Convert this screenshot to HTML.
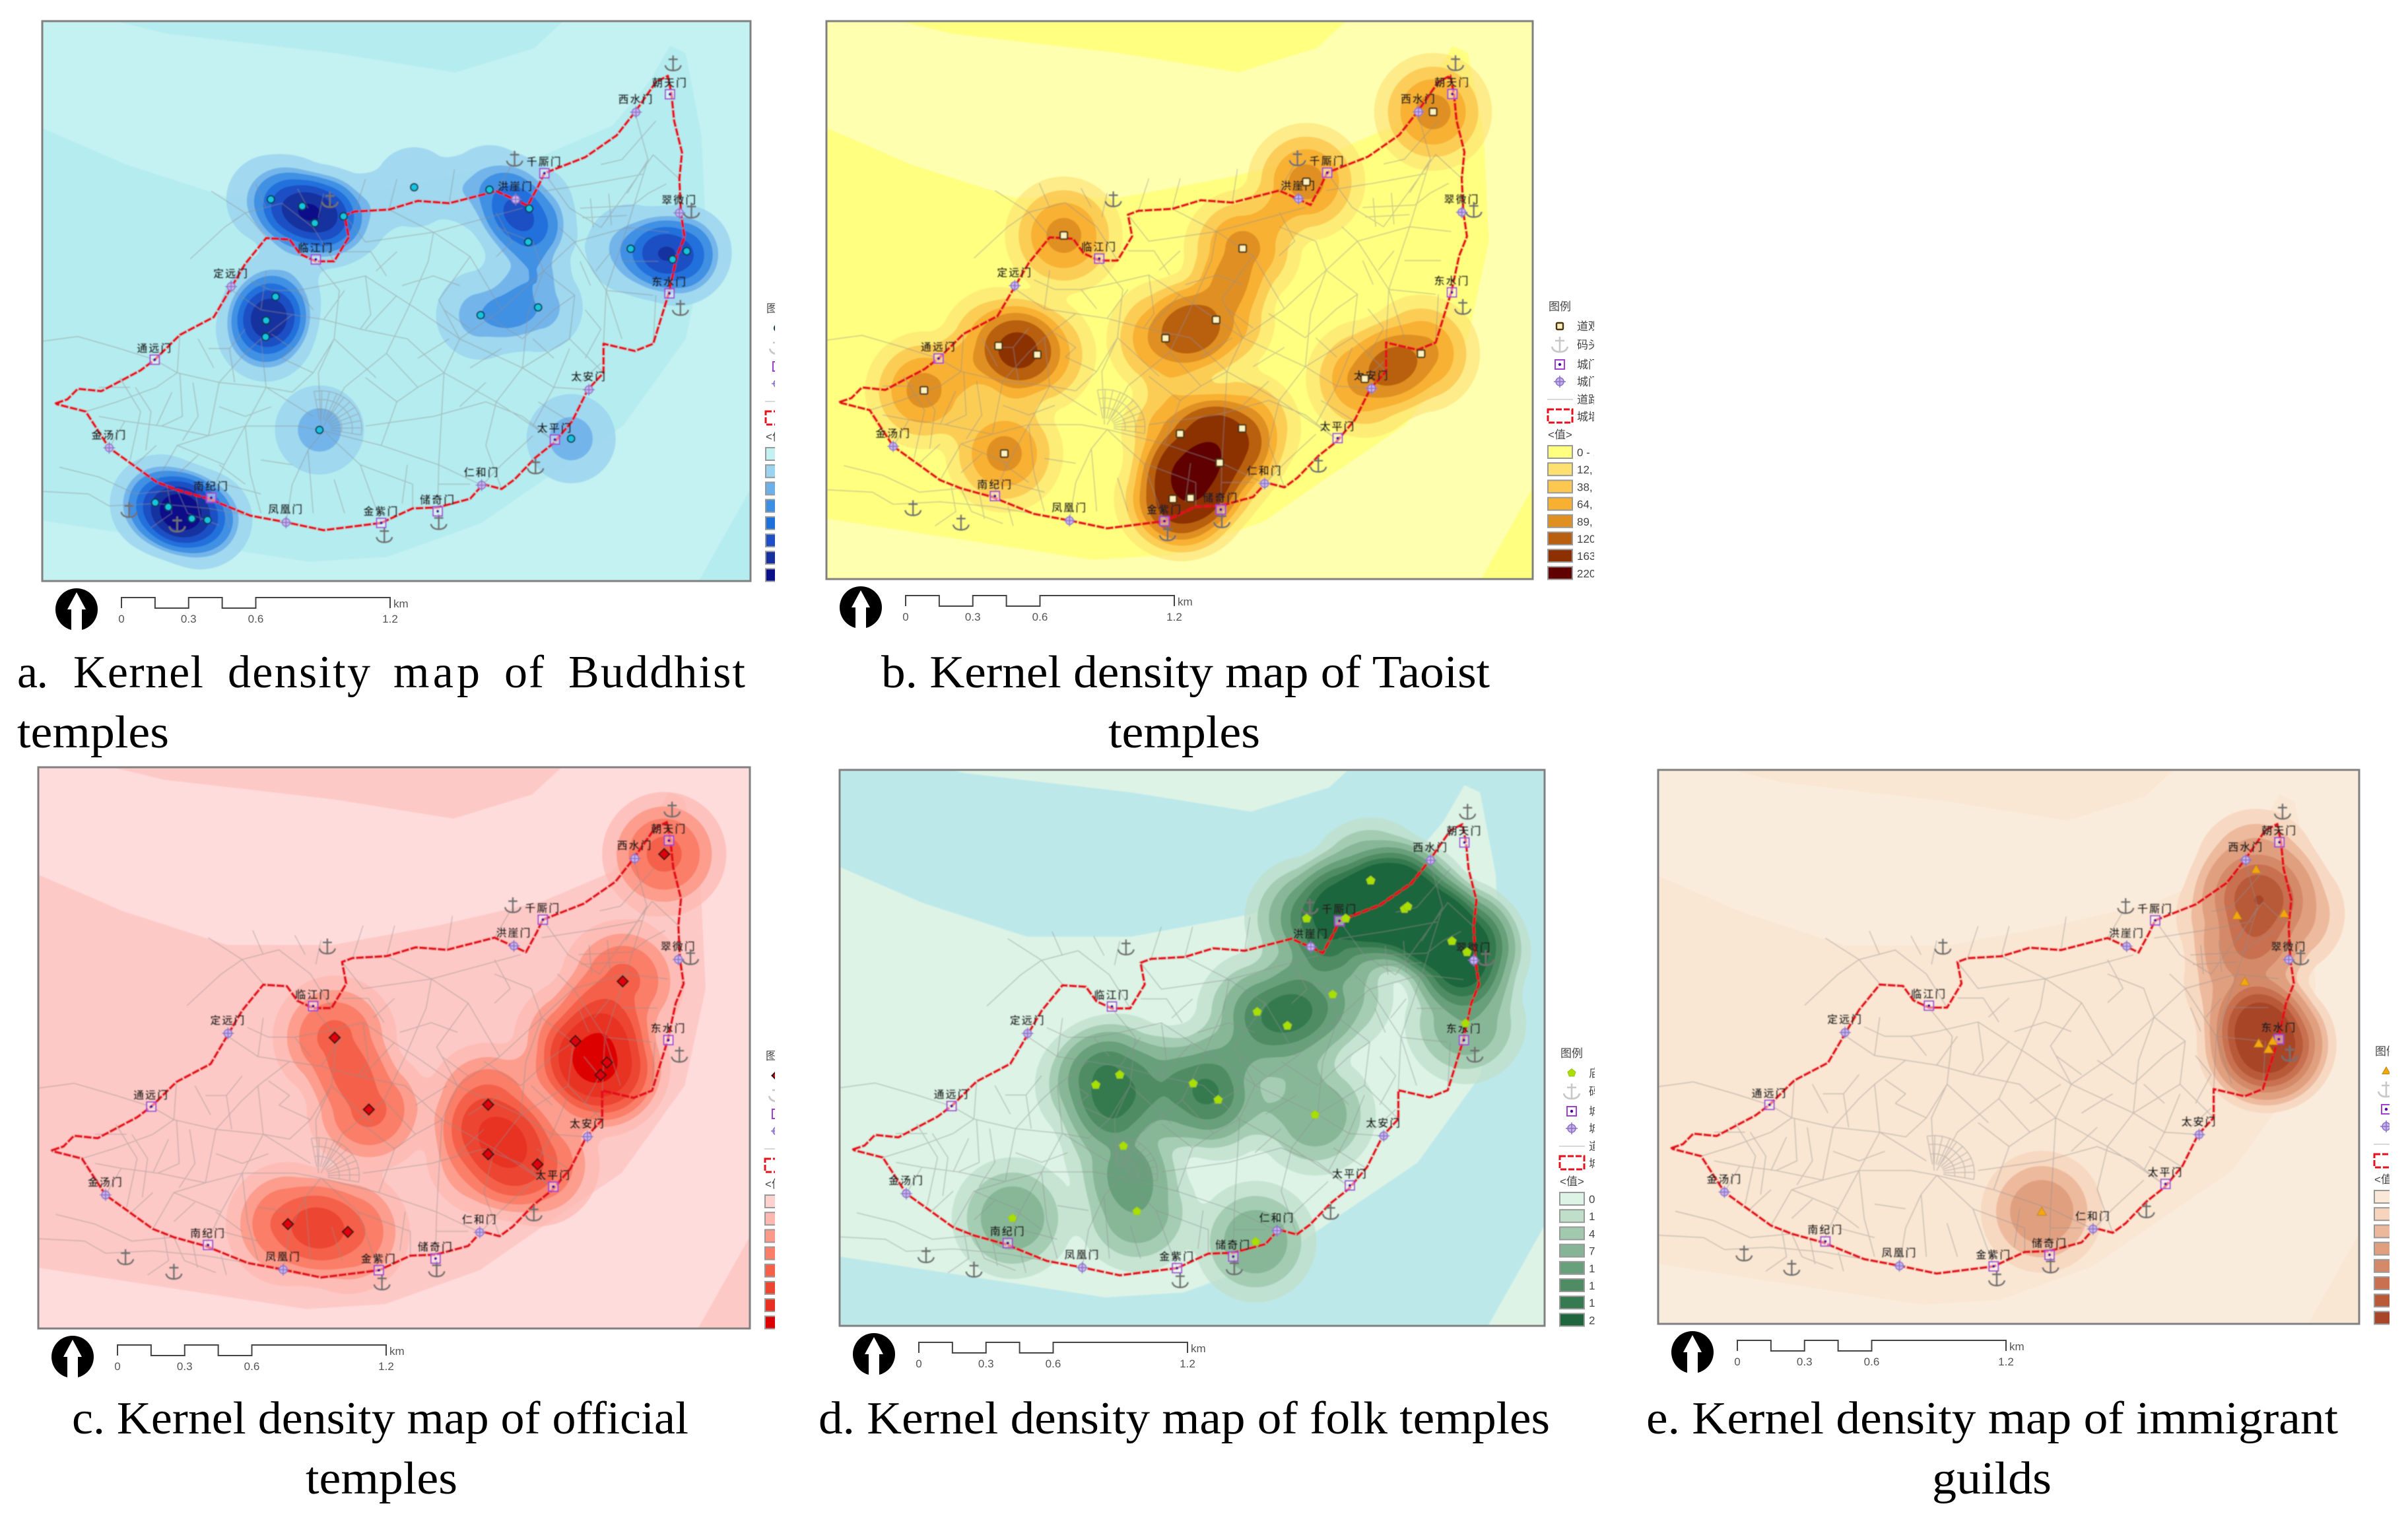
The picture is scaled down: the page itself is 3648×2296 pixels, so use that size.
<!DOCTYPE html>
<html lang="en">
<head>
<meta charset="utf-8">
<title>Kernel density maps of temples and guilds</title>
<style>
html,body{margin:0;padding:0;background:#fff}
svg{display:block}
.cap{font-family:"Liberation Serif","Noto Serif CJK SC",serif;font-size:70px;fill:#000}
.gl{font-family:"Liberation Sans","Noto Sans CJK SC",sans-serif;font-size:16px;font-weight:700;fill:#222;letter-spacing:2px;text-anchor:middle}
.lg{font-family:"Liberation Sans","Noto Sans CJK SC",sans-serif;font-size:17px;fill:#444}
.sc{font-family:"Liberation Sans",sans-serif;font-size:17px;fill:#555}
</style>
</head>
<body>
<svg id="root" xmlns="http://www.w3.org/2000/svg" width="3648" height="2296" viewBox="0 0 3648 2296">
<defs><filter id="soft" x="0" y="0" width="1" height="1"><feGaussianBlur stdDeviation="0.7"/></filter></defs>
<rect width="3648" height="2296" fill="#fff"/>
<g id="panels"></g>
<text class="cap" y="1041"><tspan x="26" textLength="47">a.</tspan><tspan x="111" textLength="197">Kernel</tspan><tspan x="345" textLength="216">density</tspan><tspan x="596" textLength="131">map</tspan><tspan x="764" textLength="60">of</tspan><tspan x="861" textLength="268">Buddhist</tspan></text>
<text class="cap" x="26" y="1132" textLength="230" lengthAdjust="spacingAndGlyphs">temples</text>
<text class="cap" x="1335" y="1041" textLength="922" lengthAdjust="spacingAndGlyphs">b. Kernel density map of Taoist</text>
<text class="cap" x="1679" y="1132" textLength="230" lengthAdjust="spacingAndGlyphs">temples</text>
<text class="cap" x="109" y="2171" textLength="934" lengthAdjust="spacingAndGlyphs">c. Kernel density map of official</text>
<text class="cap" x="463" y="2262" textLength="230" lengthAdjust="spacingAndGlyphs">temples</text>
<text class="cap" x="1240" y="2171" textLength="1108" lengthAdjust="spacingAndGlyphs">d. Kernel density map of folk temples</text>
<text class="cap" x="2494" y="2171" textLength="1048" lengthAdjust="spacingAndGlyphs">e. Kernel density map of immigrant</text>
<text class="cap" x="2927" y="2262" textLength="181" lengthAdjust="spacingAndGlyphs">guilds</text>
</svg>
<script>
/* ---- DATA: map coordinates share one survey grid (x 82–1436, y 44–1200); optional third value = kernel weight ---- */
const buddhistTemples = [[519,412],[579,426],[603,461],[658,447],[793,387,0.7],[937,392],[1013,431],[1011,500],[1030,635],[920,651],[1207,514],[1287,536],[1314,519],[528,613],[510,662],[509,696],[612,888],[1093,906],[298,1038],[323,1047],[368,1071],[398,1074]];
const taoistTemples = [[1245,232],[1002,377],[880,515],[537,488],[829,663],[732,701],[412,717],[486,735],[269,809],[423,940],[1222,733],[1114,785],[760,899],[879,888],[836,959],[746,1034],[780,1032]];
const officialTemples = [[1273,223],[1194,485],[1104,608],[1164,652],[1152,678],[646,601],[711,749],[938,739],[938,841],[1032,862],[557,985],[671,1001]];
const folkTemples = [[1102,274,1.3],[1167,333,1.4],[1173,328,1.4],[979,353,1.2],[1054,353,1.3],[1258,400,1.5],[1287,423,1.5],[1284,571],[1029,511],[884,547],[942,576],[574,699],[620,678],[761,696],[809,730],[995,761],[627,826],[653,962],[414,976],[881,1025]];
const guildHalls = [[1237,252],[1200,348],[1291,344],[1215,486],[1242,615],[1269,610],[1261,627],[823,966]];

const buddhistBreaks = [0.25,0.78,1.03,1.4,1.75,2.15,2.6];
const taoistBreaks = [0.12,0.38,0.64,0.89,1.15,1.5,2.2];
const officialBreaks = [0.12,0.38,0.62,0.9,1.2,1.6,2.2];
const folkBreaks = [0.14,0.42,0.69,1.05,1.4,1.75,2.1];
const guildBreaks = [0.14,0.42,0.69,1.1,1.45,1.8,2.2];

const buddhistColors = ['#c3f0f0','#9ad4f0','#6cb0ea','#3d8fe4','#2070dc','#1e4fc4','#16309f','#0a108a'];
const taoistColors = ['#ffff80','#fde070','#fcc850','#f8b030','#e09020','#b86010','#8c3000','#600000'];
const officialColors = ['#ffd2d0','#fdb8b0','#fc9a8a','#fa7e68','#f46048','#ec4530','#e83020','#dc0000'];
const folkColors = ['#dcf3e6','#bfdfcb','#a0c9ae','#85b596','#68a07c','#4f8c64','#357a50','#1f663c'];
const guildColors = ['#fbe9d7','#f7d5bd','#ecb79b','#e0a080','#d48a68','#c87050','#b85a38','#a84428'];

const gateNames = ['朝天门','西水门','千厮门','洪崖门','翠微门','东水门','太安门','太平门','仁和门','储奇门','金紫门','凤凰门','南纪门','金汤门','通远门','定远门','临江门'];
const gateKinds = ['major','minor','major','minor','minor','major','minor','major','minor','major','major','minor','major','minor','major','minor','major'];
const gateSites = [[1282,195],[1217,232],[1042,358],[987,412],[1300,440],[1281,606],[1127,805],[1062,908],[922,1002],[838,1056],[730,1080],[548,1079],[405,1028],[210,925],[297,743],[443,592],[605,536]];
const dockSites = [[1288,131],[985,328],[632,413],[1323,435],[1302,636],[1025,963],[840,1078],[736,1105],[340,1083],[248,1053]];
const cityWall = [[108,833],[130,825],[150,803],[195,808],[235,785],[270,765],[297,743],[345,692],[410,655],[440,600],[470,545],[510,492],[555,495],[575,525],[605,540],[640,540],[668,490],[660,445],[680,437],[745,433],[800,415],[860,420],[950,395],[985,412],[1010,425],[1030,385],[1042,358],[1120,325],[1180,280],[1215,232],[1255,170],[1278,157],[1285,195],[1290,250],[1305,315],[1300,370],[1303,440],[1310,490],[1295,530],[1280,605],[1250,710],[1215,725],[1155,710],[1155,770],[1125,805],[1095,870],[1060,915],[1025,945],[985,990],[960,1010],[925,1000],[900,1030],[838,1048],[790,1050],[730,1080],[620,1095],[545,1078],[480,1065],[400,1030],[340,1012],[300,995],[210,925],[165,850],[110,835]];
const riverOutline = [[82,20],[222,44],[322,70],[642,110],[872,150],[1022,100],[1102,20],[1470,20],[1470,945],[1306,1260],[60,1260],[60,1071],[82,1075],[292,1110],[592,1160],[742,1150],[922,1080],[1042,990],[1192,880],[1312,700],[1352,500],[1342,280],[1312,110],[1282,95],[1242,170],[1172,260],[1042,320],[842,370],[642,410],[442,410],[242,340],[82,265],[60,255]];
const roads = [
[[82,705],[150,695],[230,720],[297,743]],[[115,965],[190,985],[260,1020],[340,1012]],[[82,1015],[170,1020],[210,1045],[300,1040]],
[[405,395],[470,440],[510,490]],[[365,535],[430,470],[470,440],[540,420],[600,470],[640,540]],[[490,380],[510,430]],[[570,390],[590,430]],[[620,400],[610,450]],[[700,370],[680,437]],[[760,370],[745,433]],[[870,350],[860,420]],[[980,340],[950,395]],
[[620,590],[700,570],[800,640],[880,700],[1000,760],[1060,800]],[[605,540],[650,600],[640,700],[610,770],[615,880]],[[830,480],[820,540],[780,640],[740,730],[660,800],[620,880]],
[[445,600],[500,640],[560,650],[620,660],[690,680],[780,700],[850,770],[950,830],[1020,880],[1060,910]],[[297,743],[340,770],[420,790],[510,800],[600,860]],[[165,850],[225,830],[300,800],[340,770],[345,692]],
[[210,925],[240,870],[310,880],[400,900],[470,880],[570,880],[620,890]],[[300,995],[340,920],[400,900],[420,790]],[[400,1030],[430,960],[470,880],[510,800],[500,700]],[[548,1079],[560,1000],[590,930],[620,890]],[[620,890],[690,960],[730,1080]],[[620,890],[730,920],[840,960],[922,1002]],
[[700,880],[830,860],[930,830],[1000,860],[1060,910]],[[838,1048],[840,960],[850,770],[880,700]],[[1000,760],[1010,650],[1040,560],[1100,500],[1200,470],[1280,480]],[[1042,358],[1090,430],[1150,470],[1250,320]],[[1215,232],[1240,330],[1200,470],[1160,600],[1155,710]],[[1100,500],[1160,600],[1250,610]],[[880,700],[960,640],[1040,560]],[[830,480],[900,530],[960,640]],[[745,433],[830,480],[1000,430]],[[660,445],[700,500],[830,480]],[[1155,770],[1090,700],[1000,760],[950,830]],[[1127,805],[1060,800],[1020,880]],
[[1110,430],[1210,425]],[[1115,450],[1200,445]],[[1130,410],[1135,470]],[[1165,400],[1170,465]],[[1040,395],[1130,380],[1230,360]],[[1250,320],[1300,370]],
[[340,1012],[360,1060],[420,1085]],[[300,1040],[400,1050],[480,1065]],[[320,1000],[330,1060],[290,1090]],[[375,1020],[385,1075]],[[430,1050],[440,1090]],
[[230,780],[270,850],[250,950]],[[345,770],[350,860],[310,880]],[[420,790],[470,730],[500,700],[560,650]],[[540,740],[600,770],[640,700]],[[500,640],[510,560]],[[700,570],[710,650],[690,680]],[[760,610],[700,680]],[[740,730],[800,800],[850,770]],[[730,920],[760,830],[800,800]],[[690,960],[790,1000],[790,1050]],[[590,930],[600,1060]],[[470,880],[480,980],[500,1060]],[[430,960],[340,920]],[[950,830],[930,920],[960,1010]],[[1060,800],[1090,720]],[[930,650],[1000,700]],[[1040,560],[1100,610],[1090,700]],[[1160,600],[1190,700]],[[1255,610],[1250,710]],[[950,470],[1020,500],[1040,560]],[[900,530],[840,620],[880,700]],[[640,700],[720,780]],[[1090,870],[1030,830]],
[[260,800],[290,850],[280,930]],[[300,880],[330,810]],[[370,790],[380,860],[350,910]],[[420,840],[470,860],[520,840]],[[510,800],[560,810],[600,770]],[[450,790],[440,720],[470,680]],[[400,720],[440,720]],[[380,700],[410,760]],[[520,690],[560,720],[540,740]],[[570,600],[600,640]],[[520,600],[570,600],[620,590]],[[480,580],[520,600]],[[660,520],[710,520],[740,570]],[[720,560],[760,520]],[[770,590],[830,570],[880,590]],[[850,640],[900,680]],[[800,740],[860,700]],[[900,760],[960,720]],[[930,790],[880,840]],[[1000,700],[1060,640],[1100,610]],[[1060,740],[1020,700]],[[1120,740],[1150,680],[1120,640]],[[1190,540],[1260,540]],[[1170,520],[1140,560]],[[1070,470],[1100,500]],[[950,440],[980,500],[950,530]],[[1200,400],[1240,330]],[[1255,250],[1190,330],[1150,340]],[[1275,380],[1240,400],[1210,425]],[[1150,750],[1110,790]],[[1020,900],[960,960],[925,1000]],[[840,1000],[900,1000]],[[780,960],[770,1040]],[[640,990],[660,1060]],[[500,950],[560,960]],[[430,1000],[500,1020]],[[380,940],[340,980]],[[300,920],[260,960]],[[190,860],[240,870]],[[250,800],[190,800]],[[470,1000],[420,960]],[[700,780],[760,830]],[[620,660],[660,600]],[[1110,540],[1130,590]]
];
const scaleTicks = ['0','0.3','0.6','1.2'];
const scaleTickKm = [0,0.3,0.6,1.2];
const scaleStepsKm = [0.15,0.3,0.45,0.6,1.2];
const buddhistLegend = ['0 - 12','12,1','38,1','64,1','89,1','120','163','220'];
const taoistLegend = ['0 - 12','12, 1','38, 1','64, 1','89, 1','120','163','220'];
const officialLegend = ['0 - 9','9,1','28,1','47,1','68,1','92','125','168'];
const folkLegend = ['0 - 15','15,1','43,1','75,1','108','142','177','220'];
const guildLegend = ['0 - 8','8,1','24,1','41,1','57','78','104','140'];
const legendRows = ['道观','码头','城门','城门','道路','城墙'];

const panels = [
 {key:'buddhist',x:64,y:32,w:1073,h:848,r:95,shift:0,clip:37,temples:buddhistTemples,breaks:buddhistBreaks,colors:buddhistColors,river:'#c4f1f1',land:'#b5ecef',ops:[.8,.85,.95,1,1,1,1],sym:'circle',legend:buddhistLegend},
 {key:'taoist',x:1252,y:32,w:1070,h:845,r:110,shift:0,clip:93,temples:taoistTemples,breaks:taoistBreaks,colors:taoistColors,river:'#ffffb0',land:'#ffff80',ops:[.6,.85,.95,1,1,1,1],sym:'square',legend:taoistLegend},
 {key:'official',x:58,y:1162,w:1078,h:850,r:116,shift:0,clip:38,temples:officialTemples,breaks:officialBreaks,colors:officialColors,river:'#ffdcdc',land:'#fdc9c6',ops:[.7,.9,1,1,1,1,1],sym:'rhomb',legend:officialLegend},
 {key:'folk',x:1272,y:1166,w:1068,h:842,r:116,shift:-14,clip:76,temples:folkTemples,breaks:folkBreaks,colors:folkColors,river:'#bde8ea',land:'#dcf3e6',ops:[.75,.85,.9,1,1,1,1],sym:'pent',legend:folkLegend},
 {key:'guild',x:2512,y:1166,w:1062,h:839,r:116,shift:0,clip:46,temples:guildHalls,breaks:guildBreaks,colors:guildColors,river:'#faecdc',land:'#f9e6d3',ops:[.8,.9,1,1,1,1,1],sym:'tri',legend:guildLegend}
];

/* ---- RENDER ---- */
const NS='http://www.w3.org/2000/svg';
function mk(tag,attrs,parent){const e=document.createElementNS(NS,tag);for(const k in attrs)e.setAttribute(k,attrs[k]);if(parent)parent.appendChild(e);return e;}
function polyPath(pts,P,close){let d='';pts.forEach((p,i)=>{d+=(i?'L':'M')+P.fx(p[0]).toFixed(1)+' '+P.fy(p[1]).toFixed(1);});return d+(close?'Z':'');}

function densityPath(f,nx,ny,st,L,ox,oy){
  let d='';
  for(let j=0;j<ny;j++){
    let run=-1;
    for(let i=0;i<=nx;i++){
      let full=false,any=false,a,b,c,e;
      if(i<nx){
        a=f[j*(nx+1)+i];b=f[j*(nx+1)+i+1];c=f[(j+1)*(nx+1)+i+1];e=f[(j+1)*(nx+1)+i];
        full=a>=L&&b>=L&&c>=L&&e>=L;any=a>=L||b>=L||c>=L||e>=L;
      }
      if(full){if(run<0)run=i;continue;}
      if(run>=0){d+='M'+(ox+run*st)+' '+(oy+j*st)+'H'+(ox+i*st)+'V'+(oy+(j+1)*st)+'H'+(ox+run*st)+'Z';run=-1;}
      if(any){
        const X=ox+i*st,Y=oy+j*st,cs=[[X,Y,a],[X+st,Y,b],[X+st,Y+st,c],[X,Y+st,e]],pts=[];
        for(let k=0;k<4;k++){
          const s=cs[k],t=cs[(k+1)%4];
          if(s[2]>=L)pts.push([s[0],s[1]]);
          if((s[2]>=L)!==(t[2]>=L)){const u=(L-s[2])/(t[2]-s[2]);pts.push([s[0]+(t[0]-s[0])*u,s[1]+(t[1]-s[1])*u]);}
        }
        pts.forEach((q,n)=>{d+=(n?'L':'M')+q[0].toFixed(1)+' '+q[1].toFixed(1);});d+='Z';
      }
    }
  }
  return d;
}

function drawTemple(g,kind,x,y,s){
  if(kind==='circle')return mk('circle',{cx:x,cy:y,r:s,fill:'#12c4e0',stroke:'#0a3a50','stroke-width':2},g);
  if(kind==='square')return mk('rect',{x:x-s,y:y-s,width:2*s,height:2*s,rx:1.5,fill:'#fff2c0',stroke:'#4a3410','stroke-width':2.4},g);
  if(kind==='rhomb')return mk('polygon',{points:[[x,y-s*1.5],[x+s*1.5,y],[x,y+s*1.5],[x-s*1.5,y]].join(' '),fill:'#e00010',stroke:'#301010','stroke-width':2},g);
  if(kind==='pent')return mk('polygon',{points:[[x,y-s*1.25],[x+s*1.2,y-s*.3],[x+s*.75,y+s],[x-s*.75,y+s],[x-s*1.2,y-s*.3]].join(' '),fill:'#a8e000',stroke:'#98c020','stroke-width':1},g);
  return mk('polygon',{points:[[x,y-s*1.2],[x+s*1.2,y+s*.9],[x-s*1.2,y+s*.9]].join(' '),fill:'#f4a808',stroke:'#c08010','stroke-width':1},g);
}
function drawDock(g,x,y,col){
  return mk('path',{d:`M${x} ${y-12}v23M${x-7} ${y-6}h14M${x-12} ${y+3}q2 8 12 8q10 0 12-8`,fill:'none',stroke:col,'stroke-width':2.6},g);
}
function drawGate(g,kind,x,y){
  const s=mk('g',{},g);
  if(kind==='major'){
    mk('rect',{x:x-7,y:y-7,width:14,height:14,fill:'rgba(255,255,255,.45)',stroke:'#a040d0','stroke-width':2},s);
    mk('circle',{cx:x,cy:y,r:2.2,fill:'#5000a0'},s);
  }else{
    mk('circle',{cx:x,cy:y,r:6,fill:'#c8b4ea',stroke:'#8a70c8','stroke-width':1.5},s);
    mk('path',{d:`M${x-9} ${y}h18M${x} ${y-9}v18`,stroke:'#8a70c8','stroke-width':1.5},s);
  }
  return s;
}

const host=document.getElementById('panels');
panels.forEach(P=>{
  P.fx=x=>P.x+(x-82)/1354*P.w;
  P.fy=y=>P.y+(y-44)/1156*P.h;
  const root=mk('g',{},host);
  
  
  const cid='clip-'+P.key;
  const cp=mk('clipPath',{id:cid},root);
  mk('rect',{x:P.x,y:P.y,width:P.w,height:P.h},cp);

  const map=mk('g',{'clip-path':`url(#${cid})`},root);
  
  
  const soft=mk('g',{filter:'url(#soft)'},map);

  const land=mk('rect',{x:P.x,y:P.y,width:P.w,height:P.h,fill:P.land},soft);
  
  
  const river=mk('path',{d:polyPath(riverOutline,P,true),fill:P.river,transform:`translate(0 ${P.shift})`},soft);
  
  

  /* kernel density from temple points */
  const st=4,nx=Math.ceil(P.w/st),ny=Math.ceil(P.h/st),f=new Float32Array((nx+1)*(ny+1));
  P.temples.forEach(t=>{
    const cx=P.fx(t[0])-P.x,cy=P.fy(t[1])-P.y,R=P.r,wt=t.length>2?t[2]:1;
    const i0=Math.max(0,Math.floor((cx-R)/st)),i1=Math.min(nx,Math.ceil((cx+R)/st));
    const j0=Math.max(0,Math.floor((cy-R)/st)),j1=Math.min(ny,Math.ceil((cy+R)/st));
    for(let j=j0;j<=j1;j++)for(let i=i0;i<=i1;i++){
      const q=((i*st-cx)*(i*st-cx)+(j*st-cy)*(j*st-cy))/(R*R);
      if(q<1)f[j*(nx+1)+i]+=wt*(1-q)*(1-q);
    }
  });
  P.breaks.forEach((L,n)=>{
    const d=densityPath(f,nx,ny,st,L,P.x,P.y);
    const c=P.colors[n+1];
    const band=mk('path',{d:d,fill:c,stroke:c,'stroke-width':0.7,opacity:P.ops[n]},soft);
    
    
  });

  /* road network including the radial street fan */
  let rd='';
  roads.forEach(r=>{rd+=polyPath(r,P,false);});
  for(let a=-10;a<=100;a+=11){
    const t=a*Math.PI/180;
    rd+=polyPath([[615+18*Math.sin(t),885-18*Math.cos(t)],[615+78*Math.sin(t),885-78*Math.cos(t)]],P,false);
  }
  [40,60,78].forEach(rr=>{
    const arc=[];
    for(let a=-10;a<=100;a+=11){const t=a*Math.PI/180;arc.push([615+rr*Math.sin(t),885-rr*Math.cos(t)]);}
    rd+=polyPath(arc,P,false);
  });
  const roadEl=mk('path',{d:rd,fill:'none',stroke:'#8f8f8f','stroke-opacity':0.45,'stroke-width':1.5,'stroke-linejoin':'round'},soft);
  
  

  /* city wall */
  const wall=mk('path',{d:polyPath(cityWall,P,true),fill:'none',stroke:'#e4101c','stroke-width':4,'stroke-dasharray':'12 2','stroke-linejoin':'round'},soft);
  
  

  dockSites.forEach(s=>{
    const dk=drawDock(soft,P.fx(s[0]),P.fy(s[1]),'#707070');
    
    
  });
  gateSites.forEach((s,i)=>{
    const x=P.fx(s[0]),y=P.fy(s[1]);
    const gs=drawGate(soft,gateKinds[i],x,y);
    
    
    const lb=mk('text',{class:'gl',x:x,y:y-(gateKinds[i]==='major'?12:14)},soft);
    lb.textContent=gateNames[i];
    
    
  });
  P.temples.forEach(t=>{
    const mark=drawTemple(soft,P.sym,P.fx(t[0]),P.fy(t[1]),P.sym==='tri'?6:5.5);
    
    
  });

  const frame=mk('rect',{x:P.x,y:P.y,width:P.w,height:P.h,fill:'none',stroke:'#808080','stroke-width':3},root);
  
  

  /* north arrow */
  const nx0=P.x+52,ny0=P.y+P.h+43;
  const na=mk('g',{},root);
  
  
  mk('circle',{cx:nx0,cy:ny0,r:32,fill:'#000'},na);
  mk('polygon',{points:[[nx0,ny0-26],[nx0+14,ny0],[nx0+8,ny0],[nx0+8,ny0+32],[nx0-8,ny0+32],[nx0-8,ny0],[nx0-14,ny0]].join(' '),fill:'#fff'},na);

  /* scale bar */
  const sx=P.x+120,top=P.y+P.h+25,low=top+16,kmPx=407/1.2;
  const sb=mk('g',{},root);
  
  
  let sd=`M${sx} ${low}V${top}`,up=true;
  scaleStepsKm.forEach(v=>{
    sd+=`H${sx+v*kmPx}`;
    up=!up;
    sd+=`V${up?top:low}`;
  });
  mk('path',{d:sd,fill:'none',stroke:'#444','stroke-width':2},sb);
  scaleTicks.forEach((t,i)=>{
    const tl=mk('text',{class:'sc',x:sx+scaleTickKm[i]*kmPx,y:top+38,'text-anchor':'middle'},sb);
    tl.textContent=t;
    
    
  });
  const km=mk('text',{class:'sc',x:sx+407+5,y:top+15},sb);
  km.textContent='km';
  
  

  /* legend, cropped at the panel's image edge as in the source figure */
  const R=P.x+P.w,B=P.y+P.h,lx=R+22,tx=R+67;
  const lcid='legend-clip-'+P.key;
  const lc=mk('clipPath',{id:lcid},root);
  mk('rect',{x:R+3,y:B-440,width:P.clip-3,height:445},lc);
  const lg=mk('g',{'clip-path':`url(#${lcid})`},root);
  
  
  const title=mk('text',{class:'lg',x:lx+2,y:B-407},lg);
  title.textContent='图例';
  
  
  const rowY=[-383,-355,-325,-299,-272,-246];
  legendRows.forEach((t,i)=>{
    const lt=mk('text',{class:'lg',x:tx,y:B+rowY[i]+6},lg);
    lt.textContent=P.key==='folk'&&i===0?'庙宇':t;
    
    
  });
  const cx=lx+19;
  const ls=drawTemple(lg,P.sym,cx,B+rowY[0],5);
  
  
  const ld=drawDock(lg,cx,B+rowY[1],'#c8c8c8');
  
  
  const lga=drawGate(lg,'major',cx,B+rowY[2]);
  
  
  const lgb=drawGate(lg,'minor',cx,B+rowY[3]);
  
  
  const lr=mk('line',{x1:lx,x2:lx+39,y1:B+rowY[4],y2:B+rowY[4],stroke:'#ccc','stroke-width':1.5},lg);
  
  
  const lw=mk('rect',{x:lx+1,y:B-257,width:37,height:20,fill:'none',stroke:'#e4101c','stroke-width':3,'stroke-dasharray':'9 3'},lg);
  
  
  const vt=mk('text',{class:'lg',x:lx+1,y:B-213},lg);
  vt.textContent='<值>';
  
  
  P.colors.forEach((c,i)=>{
    const y=B-202+i*26.2;
    const sw=mk('rect',{x:lx+1,y:y,width:37,height:19,fill:c,stroke:'#999','stroke-width':2},lg);
    
    
    const vl=mk('text',{class:'lg',x:tx,y:y+16},lg);
    vl.textContent=P.legend[i];
    
    
  });
});
</script>
</body>
</html>
